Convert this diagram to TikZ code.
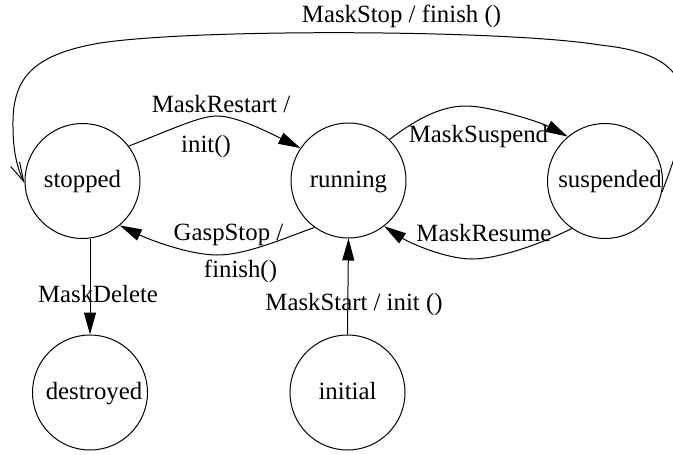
\documentclass[tikz,border=0pt]{standalone}
\usepackage{fontspec}
\setmainfont{Liberation Serif}
\usetikzlibrary{arrows.meta}
\begin{document}
\begin{tikzpicture}[x=1pt,y=-1pt,
  txt/.style={font=\fontsize{24.8}{30}\selectfont},
  state/.style={circle,draw,line width=1pt,minimum size=115pt,inner sep=0pt,txt,text height=18.6pt,text depth=5pt},
  stext/.style={txt,inner sep=0pt,text height=18.6pt,text depth=5pt},
  lbl/.style={txt,inner sep=0pt,anchor=base},
  edge/.style={line width=1pt,-{Triangle[length=22pt,width=12pt]}},
  openedge/.style={line width=1pt,-{Straight Barb[length=19pt,width=10pt]}}]
\useasboundingbox (0,0) rectangle (673,455);

% states
\node[state] (stopped) at (82.5,181) {stopped};
\node[state] (running) at (348.5,180.5) {running};
\node[state] (susp) at (605,181) {};
\node[stext] (susptext) at ([xshift=5pt]susp.center) {suspended};
\node[state] (destroyed) at (90,392.5) {};
\node[stext] (destroyedtext) at ([xshift=4pt]destroyed.center) {destroyed};
\node[state] (initial) at (347.5,392.5) {initial};

% connectors
\draw[edge] (stopped.37) .. controls (175,128) and (200,116) .. (217,116)
  .. controls (234,116) and (260,128) .. (running.146);
\draw[edge] (running.45) .. controls (415,120) and (440,106) .. (466,106)
  .. controls (490,106) and (540,122) .. (susp.130);
\draw[edge] (running.234) .. controls (280,240) and (245,255) .. (217,255)
  .. controls (190,255) and (150,240) .. (stopped.310);
\draw[edge] (susp.235) .. controls (545,242) and (500,259) .. (472,259)
  .. controls (445,259) and (408,242) .. (running.308);
\draw[edge] (stopped.south -| destroyed.north) -- (destroyed.north);
\draw[edge] (initial.north) -- (running.south);
\draw[openedge] (susp.-11) .. controls (700,95) and (695,55) .. (600,45)
  .. controls (510,30) and (200,28) .. (100,43)
  .. controls (30,55) and (12,80) .. (13,127)
  .. controls (13,150) and (17,168) .. (stopped.182);

% labels
\node[lbl] (lmaskstop) at (401.5,22) {MaskStop / finish ()};
\node[lbl] (lrestart1) at (221,112) {MaskRestart /};
\node[lbl] (lrestart2) at (206,152) {init()};
\node[lbl] (lsuspend) at (478.5,142) {MaskSuspend};
\node[lbl] (lgasp1) at (228.5,240) {GaspStop /};
\node[lbl] (lgasp2) at (240.5,277) {finish()};
\node[lbl] (lresume) at (484,241) {MaskResume};
\node[lbl] (ldelete) at (98,302) {MaskDelete};
\node[lbl] (lstart) at (354,310) {MaskStart / init ()};
\end{tikzpicture}
\end{document}
